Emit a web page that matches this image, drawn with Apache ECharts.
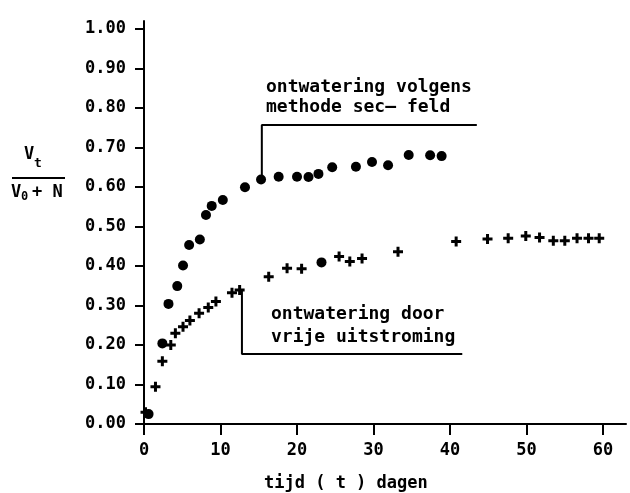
<!DOCTYPE html>
<html>
<head>
<meta charset="utf-8">
<script src="https://cdn.jsdelivr.net/npm/echarts@6/dist/echarts.min.js"></script>
<style>html,body{margin:0;padding:0;background:#fff}#c{width:630px;height:493px}</style>
</head>
<body>
<div id="c"></div>
<script>
// ---- data ----
const xTicks = [0, 10, 20, 30, 40, 50, 60];
const yTicks = [0, 0.1, 0.2, 0.3, 0.4, 0.5, 0.6, 0.7, 0.8, 0.9, 1.0];

// ontwatering volgens methode sec-feld (dots)
const secFeldX = [0.6, 2.4, 3.2, 4.35, 5.1, 5.9, 7.3, 8.1, 8.85, 10.3, 13.2, 15.3, 17.6, 20.0, 21.5, 22.8, 24.6, 27.7, 29.8, 31.9, 34.6, 37.4, 38.9];
const secFeldY = [0.025, 0.204, 0.304, 0.349, 0.401, 0.453, 0.467, 0.529, 0.552, 0.567, 0.599, 0.619, 0.626, 0.626, 0.625, 0.633, 0.650, 0.651, 0.663, 0.655, 0.681, 0.680, 0.678];

// ontwatering door vrije uitstroming (crosses)
const vrijeX = [0.2, 1.5, 2.4, 3.5, 4.1, 5.1, 6.0, 7.2, 8.4, 9.4, 11.5, 12.5, 16.3, 18.7, 20.6, 23.2, 25.5, 26.9, 28.5, 33.2, 40.8, 44.9, 47.6, 49.9, 51.7, 53.5, 55.0, 56.6, 58.1, 59.5];
const vrijeY = [0.03, 0.094, 0.159, 0.200, 0.230, 0.246, 0.262, 0.280, 0.295, 0.310, 0.332, 0.339, 0.373, 0.394, 0.393, 0.409, 0.424, 0.411, 0.419, 0.436, 0.462, 0.468, 0.470, 0.476, 0.472, 0.464, 0.464, 0.470, 0.470, 0.470];
const vrijeDotIndex = [15]; // point drawn as a dot in the original

// annotation leader lines (data coordinates)
const secFeldLeaderX = [15.4, 15.4, 43.5];
const secFeldLeaderY = [0.619, 0.757, 0.757];
const vrijeLeaderX = [12.8, 12.8, 41.6];
const vrijeLeaderY = [0.339, 0.177, 0.177];

// ---- chart ----
const INK = '#000';
const FONT = 'DejaVu Sans Mono';
const plusPath = 'path://M3.5,0h3v3.5h3.5v3h-3.5v3.5h-3v-3.5h-3.5v-3h3.5z';
const zip = (xs, ys) => xs.map((x, i) => [x, ys[i]]);
const f = (size) => 'bold ' + size + 'px "DejaVu Sans Mono"';

const vrijeData = vrijeX.map((x, i) => {
  const item = { value: [x, vrijeY[i]] };
  if (vrijeDotIndex.includes(i)) { item.symbol = 'circle'; item.symbolSize = 10; }
  return item;
});

const chart = echarts.init(document.getElementById('c'), null, { renderer: 'canvas' });
chart.setOption({
  backgroundColor: '#fff',
  animation: false,
  grid: { left: 144, right: 4, top: 21, bottom: 69, containLabel: false },
  xAxis: {
    type: 'value', min: 0, max: 63,
    splitLine: { show: false },
    axisLine: { show: true, onZero: false, lineStyle: { color: INK, width: 2 } },
    axisTick: { show: true, inside: false, length: 11, customValues: xTicks, lineStyle: { color: INK, width: 2 } },
    axisLabel: { customValues: xTicks, margin: 18, fontSize: 17, fontWeight: 'bold', fontFamily: FONT, color: INK }
  },
  yAxis: {
    type: 'value', min: 0, max: 1.02,
    splitLine: { show: false },
    axisLine: { show: true, onZero: false, lineStyle: { color: INK, width: 2 } },
    axisTick: { show: true, inside: false, length: 9, customValues: yTicks, lineStyle: { color: INK, width: 2 } },
    axisLabel: { customValues: yTicks, margin: 18, fontSize: 17, fontWeight: 'bold', fontFamily: FONT, color: INK,
      formatter: v => v.toFixed(2) }
  },
  series: [
    { type: 'line', data: zip(secFeldLeaderX, secFeldLeaderY), symbol: 'none', silent: true,
      lineStyle: { color: INK, width: 2 }, z: 1 },
    { type: 'line', data: zip(vrijeLeaderX, vrijeLeaderY), symbol: 'none', silent: true,
      lineStyle: { color: INK, width: 2 }, z: 1 },
    { type: 'scatter', name: 'sec-feld', data: zip(secFeldX, secFeldY), symbol: 'circle', symbolSize: 10,
      itemStyle: { color: INK, opacity: 1 }, z: 3 },
    { type: 'scatter', name: 'vrije uitstroming', data: vrijeData, symbol: plusPath, symbolSize: 10,
      itemStyle: { color: INK, opacity: 1 }, z: 3 }
  ],
  graphic: [
    { type: 'text', left: 266, top: 78, style: { text: 'ontwatering volgens', font: f(18), fill: INK } },
    { type: 'text', left: 266, top: 98, style: { text: 'methode sec\u2013 feld', font: f(18), fill: INK } },
    { type: 'text', left: 271, top: 305, style: { text: 'ontwatering door', font: f(18), fill: INK } },
    { type: 'text', left: 271, top: 328, style: { text: 'vrije uitstroming', font: f(18), fill: INK } },
    { type: 'text', left: 264, top: 475, style: { text: 'tijd ( t ) dagen', font: f(17), fill: INK } },
    // y-axis quantity: V_t / (V_0 + N)
    { type: 'text', left: 24, top: 146, style: { text: 'V', font: f(17), fill: INK } },
    { type: 'text', left: 34, top: 157, style: { text: 't', font: f(13), fill: INK } },
    { type: 'line', shape: { x1: 12, y1: 178, x2: 65, y2: 178 }, style: { stroke: INK, lineWidth: 2 } },
    { type: 'text', left: 11, top: 184, style: { text: 'V', font: f(17), fill: INK } },
    { type: 'text', left: 21, top: 191, style: { text: '0', font: f(12), fill: INK } },
    { type: 'text', left: 32, top: 184, style: { text: '+ N', font: f(17), fill: INK } }
  ]
});
</script>
</body>
</html>
